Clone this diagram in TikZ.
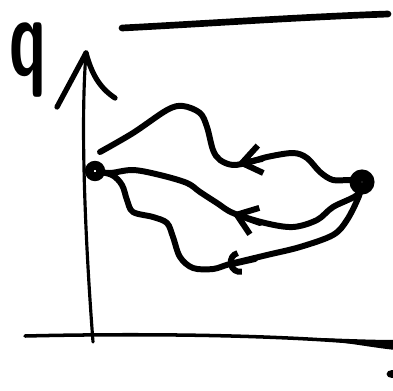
\documentclass[tikz,border=0pt]{standalone}
\usetikzlibrary{arrows.meta,backgrounds}
\begin{document}
\begin{tikzpicture}[x=0.02cm,y=-0.02cm,
  stroke/.style={line width=3.4pt, line cap=round, line join=round},
  axisline/.style={line width=1.8pt, line cap=round, line join=round},
  dot/.style={circle, draw, fill=white, inner sep=0pt},
  barb/.style={stroke, -{Straight Barb[length=0.38cm,width=0.56cm]}},
  arcbarb/.style={stroke, -{Arc Barb[length=0.24cm,width=0.5cm]}},
  qlabel/.style={inner sep=0pt, font=\fontsize{40}{40}\selectfont\sffamily\bfseries, xscale=0.93, yscale=1.6}]
\useasboundingbox (0,0) rectangle (393,390);
% label
\node[qlabel] (q) at (28,60) {q};
% points
\node[dot, minimum size=0.23cm, line width=5pt] (L) at (95,171) {};
\node[dot, minimum size=0.26cm, line width=6.8pt] (R) at (362,182) {};
% axis
\coordinate (O) at (93,342);
\coordinate (T) at (86,53);
\coordinate (BL) at (57,107);
\coordinate (BR) at (115,98);
% top and bottom lines
\coordinate (A1) at (122,28);
\coordinate (A2) at (388,14);
\coordinate (B1) at (25,336);
\coordinate (B2) at (395,346);
% arrow vertices and free end
\coordinate (C1s) at (100,152);
\coordinate (M1) at (237,164);
\coordinate (M2) at (232,213);
\coordinate (M3) at (228,265);
\coordinate (N1) at (262,159);
\coordinate (N2) at (260,223);
\coordinate (N3) at (255,259);
\begin{pgfonlayer}{background}
\draw[axisline] (O) .. controls (86,250) and (80,130) .. (T);
\draw[stroke, line width=3pt] (T) -- (BL);
\draw[stroke, line width=3pt] (T) .. controls (92,75) and (100,88) .. (BR);
\draw[stroke, line width=3.8pt] (A1) .. controls (200,24) and (300,17) .. (A2);
\draw[line width=2pt, line cap=round] (B1) .. controls (150,333) and (300,335) .. (B2);
\fill (320,338) .. controls (350,339) and (375,340) .. (396,340) -- (396,350) .. controls (375,348) and (350,343) .. (320,340) -- cycle;
\fill (392,374) ellipse [x radius=0.11cm, y radius=0.08cm];
% curve 1 (top)
\draw[stroke] plot[smooth, tension=0.55] coordinates {(R.center) (350,180) (333,180) (320,172) (307,158) (293,153) (267,157) (250,162) (233,165) (220,160) (213,150) (207,127) (200,113) (183,106) (167,110) (133,133) (C1s)};
% curve 2 (middle)
\draw[stroke] plot[smooth, tension=0.55] coordinates {(R.center) (357,195) (333,207) (317,220) (293,227) (265,223) (233,213) (217,203) (200,192) (187,183) (160,175) (133,170) (110,173) (L.center)};
% curve 3 (bottom)
\draw[stroke] plot[smooth, tension=0.55] coordinates {(R.center) (359,196) (347,220) (333,235) (300,247) (267,255) (230,264) (213,269) (193,268) (180,257) (173,237) (167,223) (153,217) (133,212) (127,200) (122,185) (112,175) (L.center)};
% arrowheads
\draw[barb] (N1) -- (M1);
\draw[barb] (N2) -- (M2);
\draw[arcbarb] (N3) -- (M3);
\end{pgfonlayer}
\end{tikzpicture}
\end{document}
